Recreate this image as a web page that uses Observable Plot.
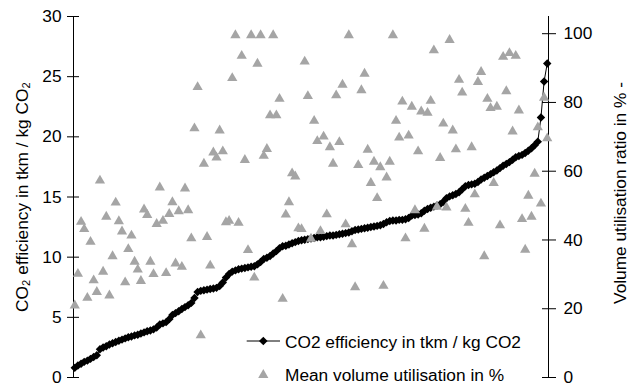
<!DOCTYPE html>
<html>
<head>
<meta charset="utf-8">
<script src="https://cdn.jsdelivr.net/npm/d3@7"></script>
<script src="https://cdn.jsdelivr.net/npm/@observablehq/plot@0.6"></script>
<style>
  html, body { margin: 0; padding: 0; background: #fff; }
  #wrap { position: relative; width: 632px; height: 384px; overflow: hidden;
          font-family: "Liberation Sans", Arial, sans-serif; }
  #legend { position: absolute; left: 0; top: 0; pointer-events: none; }
</style>
</head>
<body>
<div id="wrap"></div>
<script>
// CO2 efficiency (tkm / kg CO2), sorted ascending, one per observation
const co2Efficiency = [
  0.8, 1.0, 1.15, 1.3, 1.4, 1.55, 1.7, 1.85, 2.35, 2.5,
  2.6, 2.75, 2.85, 2.95, 3.05, 3.15, 3.25, 3.35, 3.4, 3.5,
  3.55, 3.65, 3.75, 3.85, 3.9, 4.0, 4.15, 4.4, 4.5, 4.6,
  4.85, 5.2, 5.35, 5.5, 5.7, 5.85, 6.0, 6.2, 6.6, 7.1,
  7.2, 7.25, 7.3, 7.35, 7.4, 7.45, 7.6, 7.9, 8.3, 8.6,
  8.8, 8.9, 9.0, 9.05, 9.1, 9.15, 9.2, 9.25, 9.4, 9.6,
  9.85, 9.95, 10.1, 10.3, 10.5, 10.75, 10.9, 10.95, 11.05, 11.15,
  11.25, 11.35, 11.4, 11.45, 11.5, 11.55, 11.6, 11.65, 11.65, 11.7,
  11.75, 11.8, 11.8, 11.85, 11.9, 11.95, 12.0, 12.05, 12.15, 12.25,
  12.3, 12.35, 12.4, 12.45, 12.5, 12.55, 12.6, 12.65, 12.75, 12.9,
  13.0, 13.05, 13.05, 13.1, 13.1, 13.15, 13.25, 13.45, 13.5, 13.55,
  13.65, 13.85, 14.0, 14.1, 14.2, 14.3, 14.4, 14.6, 14.9, 15.05,
  15.15, 15.25, 15.4, 15.65, 15.9, 16.0, 16.05, 16.1, 16.25, 16.45,
  16.6, 16.75, 16.9, 17.05, 17.2, 17.4, 17.6, 17.75, 17.9, 18.1,
  18.3, 18.4, 18.5, 18.65, 18.85, 19.05, 19.3, 19.6, 21.6, 24.6,
  26.1
];

// Mean volume utilisation (%), same observation order
const volumeUtilisation = [
  21.4, 30.6, 45.7, 43.6, 23.6, 39.9, 28.7, 25.3, 57.7, 31.2,
  47.2, 24.3, 35.7, 51.3, 45.9, 42.9, 28.1, 37.8, 41.7, 34.1,
  31.8, 28.5, 49.3, 47.7, 34.1, 30.5, 45.1, 55.7, 46.0, 30.8,
  48.0, 51.4, 33.6, 48.8, 32.6, 55.4, 49.1, 40.9, 72.9, 84.9,
  12.7, 62.6, 41.3, 33.0, 65.9, 64.4, 72.3, 66.2, 45.6, 46.0,
  87.5, 100, 45.4, 94.0, 63.7, 37.5, 100, 29.5, 91.7, 100,
  64.9, 66.9, 76.7, 100, 76.7, 81.5, 23.3, 47.8, 51.4, 59.8,
  58.9, 43.8, 43.6, 92.3, 82.3, 40.8, 75.1, 69.2, 43.0, 70.5,
  47.9, 67.4, 62.6, 82.5, 68.9, 85.6, 45.0, 100, 39.2, 26.7,
  62.2, 84.0, 88.8, 66.7, 57.0, 63.2, 52.6, 61.6, 27.1, 58.6,
  63.2, 100, 75.1, 70.2, 80.7, 40.9, 70.8, 79.2, 49.1, 66.2,
  77.8, 43.7, 77.4, 80.9, 95.6, 50.1, 64.3, 74.3, 49.9, 98.6,
  72.3, 66.8, 87.0, 83.3, 49.5, 45.4, 67.4, 53.7, 86.4, 89.3,
  35.7, 81.5, 78.8, 57.0, 79.2, 44.7, 93.7, 83.7, 94.8, 72.0,
  94.0, 78.1, 46.5, 37.6, 53.3, 47.2, 59.7, 73.2, 51.0, 81.8,
  70.0
];

const leftTicks = [0, 5, 10, 15, 20, 25, 30];
const rightTicks = [0, 20, 40, 60, 80, 100];
const leftMax = 30;
const rightMax = 105;
const leftTitle = "CO\u2082 efficiency in tkm / kg CO\u2082";
const rightTitle = "Volume utilisation ratio in % -";
const legendLabels = ["CO2 efficiency in tkm / kg CO2", "Mean volume utilisation in %"];

const k = leftMax / rightMax;
const rows = co2Efficiency.map((c, i) => ({ idx: i + 1, co2: c, vol: volumeUtilisation[i] }));
const n = rows.length;
const xDomain = [0.6, n + 0.4];
const fontFamily = '"Liberation Sans", Arial, sans-serif';
const fs = 17.3;

const chart = Plot.plot({
  width: 632,
  height: 384,
  marginLeft: 73,
  marginRight: 84,
  marginTop: 16,
  marginBottom: 7,
  style: { fontFamily, fontSize: fs + "px", color: "#000", background: "#fff", overflow: "visible" },
  x: { domain: xDomain, axis: null },
  y: { domain: [0, leftMax], axis: null },
  marks: [
    Plot.ruleX([xDomain[0]], { y1: 0, y2: leftMax, stroke: "#000", strokeWidth: 1 }),
    Plot.ruleX([xDomain[1]], { y1: 0, y2: leftMax, stroke: "#000", strokeWidth: 1 }),
    // left axis: crossing ticks + labels
    Plot.axisY({ anchor: "left", ticks: leftTicks, tickSize: 12, dx: 6, tickFormat: () => "", label: null, stroke: "#000", strokeOpacity: 1 }),
    Plot.axisY({ anchor: "left", ticks: leftTicks, tickSize: 0, tickPadding: 12, label: null, fontSize: fs }),
    // right axis
    Plot.axisY({ anchor: "right", ticks: rightTicks.map(v => v * k), tickSize: 14, dx: -7, tickFormat: () => "", label: null, stroke: "#000", strokeOpacity: 1 }),
    Plot.axisY({ anchor: "right", ticks: rightTicks.map(v => v * k), tickSize: 0, tickPadding: 15, tickFormat: d => String(Math.round(d / k)), label: null, fontSize: fs }),
    // axis titles
    Plot.text([leftTitle], { text: d => d, frameAnchor: "left", dx: -51, rotate: -90, textAnchor: "middle", lineAnchor: "middle", fontSize: fs, fill: "#000" }),
    Plot.text([rightTitle], { text: d => d, frameAnchor: "right", dx: 72, dy: -4, rotate: -90, textAnchor: "middle", lineAnchor: "middle", fontSize: fs, fill: "#000" }),
    // CO2 efficiency line with diamonds
    Plot.line(rows, { x: "idx", y: "co2", stroke: "#000", strokeWidth: 1 }),
    Plot.dot(rows, { x: "idx", y: "co2", symbol: "diamond2", r: 3.8, fill: "#000", stroke: null }),
    // volume utilisation triangles (secondary axis)
    Plot.dot(rows, { x: "idx", y: d => d.vol * k, symbol: "triangle", r: 3.8, fill: "#a5a5a5", stroke: null, dy: 1.5 })
  ]
});

const wrap = document.getElementById("wrap");
wrap.appendChild(chart);

// legend overlay
const ns = "http://www.w3.org/2000/svg";
const leg = document.createElementNS(ns, "svg");
leg.setAttribute("id", "legend");
leg.setAttribute("width", 632);
leg.setAttribute("height", 384);
leg.innerHTML = `
  <line x1="246.7" y1="341" x2="280" y2="341" stroke="#000" stroke-width="1"/>
  <path d="M263.3,336.7L267.6,341L263.3,345.3L259,341Z" fill="#000"/>
  <text x="285" y="341.5" dominant-baseline="central" font-family='${fontFamily}' font-size="${fs}" fill="#000">${legendLabels[0]}</text>
  <path d="M263.3,369L268.4,378L258.2,378Z" fill="#a5a5a5"/>
  <text x="285" y="375" dominant-baseline="central" font-family='${fontFamily}' font-size="${fs}" fill="#000">${legendLabels[1]}</text>
`;
wrap.appendChild(leg);
</script>
</body>
</html>
